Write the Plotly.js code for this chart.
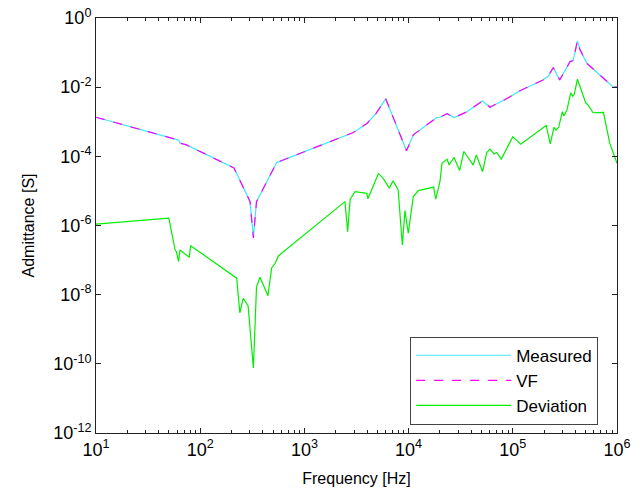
<!DOCTYPE html>
<html>
<head>
<meta charset="utf-8">
<script src="https://cdn.plot.ly/plotly-3.0.1.min.js"></script>
<style>html,body{margin:0;padding:0;background:#fff;}#chart{width:643px;height:493px;}</style>
</head>
<body>
<div id="chart"></div>
<script>
// Frequency axis samples [Hz] and admittance values [S]
var measuredFreq = [10, 62, 64, 74, 211, 301, 324, 347, 542, 2200, 2950, 3980, 4900, 6030, 7700, 9550, 11100, 14800, 18600, 20000, 23400, 27500, 36300, 51300, 60300, 87100, 117500, 195000, 219000, 245000, 282000, 355000, 380000, 417000, 442000, 513000, 692000, 923000, 1000000];
var measuredY = [1.35e-3, 2.95e-4, 2.4e-4, 2.14e-4, 4.6e-5, 4.9e-6, 4.6e-7, 4.9e-6, 6.6e-5, 3.5e-4, 4.9e-4, 8.9e-4, 1.78e-3, 4.6e-3, 7.2e-4, 1.45e-4, 4.2e-4, 8.1e-4, 1.32e-3, 1.35e-3, 1.7e-3, 1.32e-3, 1.95e-3, 4.0e-3, 2.63e-3, 4.6e-3, 7.9e-3, 1.62e-2, 2.1e-2, 3.7e-2, 1.62e-2, 5.5e-2, 5.9e-2, 0.219, 0.12, 4.9e-2, 2.24e-2, 1.0e-2, 1.0e-2];
var vfFreq = measuredFreq.slice();
var vfY = [1.35e-3, 2.95e-4, 2.4e-4, 2.14e-4, 4.6e-5, 4.9e-6, 4.4e-7, 4.9e-6, 6.6e-5, 3.5e-4, 4.9e-4, 8.9e-4, 1.78e-3, 4.6e-3, 7.2e-4, 1.45e-4, 4.2e-4, 8.1e-4, 1.32e-3, 1.35e-3, 1.7e-3, 1.32e-3, 1.95e-3, 4.0e-3, 2.63e-3, 4.6e-3, 7.9e-3, 1.62e-2, 2.1e-2, 3.7e-2, 1.62e-2, 5.5e-2, 5.9e-2, 0.219, 0.12, 4.9e-2, 2.24e-2, 1.0e-2, 1.0e-2];
var deviationFreq = [10, 50, 57.5, 59, 62, 64, 78.5, 81, 224, 240, 259, 288, 324, 347, 375, 447, 485, 525, 562, 2450, 2600, 2750, 3060, 3980, 4070, 5130, 5710, 6530, 7080, 7940, 8710, 9230, 9930, 11100, 12400, 17400, 18200, 20000, 20900, 23400, 24500, 27300, 30900, 33900, 41700, 44700, 51300, 56200, 60300, 66100, 70000, 77600, 100000, 119000, 209000, 229000, 248000, 260000, 275000, 299000, 309000, 331000, 360000, 376000, 389000, 417000, 501000, 525000, 589000, 741000, 851000, 1000000];
var deviationY = [1.1e-6, 1.62e-6, 1.95e-7, 1.78e-7, 9.1e-8, 1.95e-7, 1.2e-7, 2.6e-7, 3.0e-8, 3.0e-9, 7.9e-9, 4.8e-9, 7.6e-11, 1.66e-8, 3.2e-8, 9.3e-9, 5.9e-8, 8.1e-8, 1.32e-7, 4.9e-6, 6.6e-7, 5.75e-6, 9.5e-6, 8.5e-6, 5.9e-6, 3.2e-5, 2.3e-5, 1.2e-5, 1.95e-5, 1.07e-5, 2.75e-7, 2.7e-6, 6.0e-7, 6.9e-6, 1.02e-5, 1.29e-5, 5.75e-6, 1.86e-5, 6.3e-5, 8.3e-5, 5.6e-5, 9.3e-5, 3.9e-5, 1.38e-4, 5.6e-5, 1.1e-4, 3.6e-5, 1.29e-4, 1.62e-4, 1.17e-4, 1.29e-4, 8.3e-5, 3.7e-4, 2.24e-4, 7.8e-4, 2.3e-4, 6.9e-4, 5.75e-4, 6.8e-4, 1.95e-3, 1.48e-3, 2.2e-3, 6.9e-3, 5.4e-3, 6.2e-3, 1.7e-2, 3.5e-3, 3.1e-3, 1.82e-3, 1.86e-3, 2.4e-4, 6.3e-5];

var xTickVals = [10, 100, 1000, 10000, 100000, 1000000];
var xTickText = ['10<sup>1</sup>', '10<sup>2</sup>', '10<sup>3</sup>', '10<sup>4</sup>', '10<sup>5</sup>', '10<sup>6</sup>'];
var yTickVals = [1e-12, 1e-10, 1e-8, 1e-6, 1e-4, 1e-2, 1];
var yTickText = ['10<sup>-12</sup>', '10<sup>-10</sup>', '10<sup>-8</sup>', '10<sup>-6</sup>', '10<sup>-4</sup>', '10<sup>-2</sup>', '10<sup>0</sup>'];
var seriesNames = ['Measured', 'VF', 'Deviation'];

var xMinor = [];
for (var d = 10; d < 1000000; d *= 10) {
  for (var m = 2; m <= 9; m++) xMinor.push(d * m);
}

var traces = [
  {x: measuredFreq, y: measuredY, name: seriesNames[0], type: 'scatter', mode: 'lines',
   line: {color: '#40e8f0', width: 1.2}},
  {x: vfFreq, y: vfY, name: seriesNames[1], type: 'scatter', mode: 'lines',
   line: {color: '#ff00ff', width: 1.2, dash: 'dash'}},
  {x: deviationFreq, y: deviationY, name: seriesNames[2], type: 'scatter', mode: 'lines',
   line: {color: '#00ee00', width: 1.2}}
];

var font = 'Liberation Sans, Arial, sans-serif';
var layout = {
  width: 643, height: 493,
  margin: {l: 96, r: 26, t: 18, b: 60},
  paper_bgcolor: '#fff', plot_bgcolor: '#fff',
  font: {family: font, size: 16, color: '#000'},
  showlegend: true,
  legend: {
    x: 0.603, y: 0.02, xanchor: 'left', yanchor: 'bottom',
    bgcolor: '#fff', bordercolor: '#444', borderwidth: 1,
    font: {family: font, size: 17, color: '#000'},
    itemwidth: 95, tracegroupgap: 0
  },
  xaxis: {
    type: 'log', range: [1, 6],
    tickmode: 'array', tickvals: xTickVals, ticktext: xTickText,
    ticks: 'inside', ticklen: 5, tickcolor: '#222',
    showline: true, linecolor: '#222', linewidth: 1, mirror: 'ticks',
    showgrid: false, zeroline: false,
    tickfont: {family: font, size: 18},
    minor: {tickvals: xMinor, ticks: 'inside', ticklen: 3, tickcolor: '#222', showgrid: false},
    title: {text: 'Frequency [Hz]', font: {family: font, size: 16}, standoff: 14}
  },
  yaxis: {
    type: 'log', range: [-12, 0],
    tickmode: 'array', tickvals: yTickVals, ticktext: yTickText,
    ticks: 'inside', ticklen: 5, tickcolor: '#222',
    showline: true, linecolor: '#222', linewidth: 1, mirror: 'ticks',
    showgrid: false, zeroline: false,
    tickfont: {family: font, size: 18},
    title: {text: 'Admittance [S]', font: {family: font, size: 16}, standoff: 14}
  }
};

Plotly.newPlot('chart', traces, layout, {displayModeBar: false, staticPlot: true});
</script>
</body>
</html>
